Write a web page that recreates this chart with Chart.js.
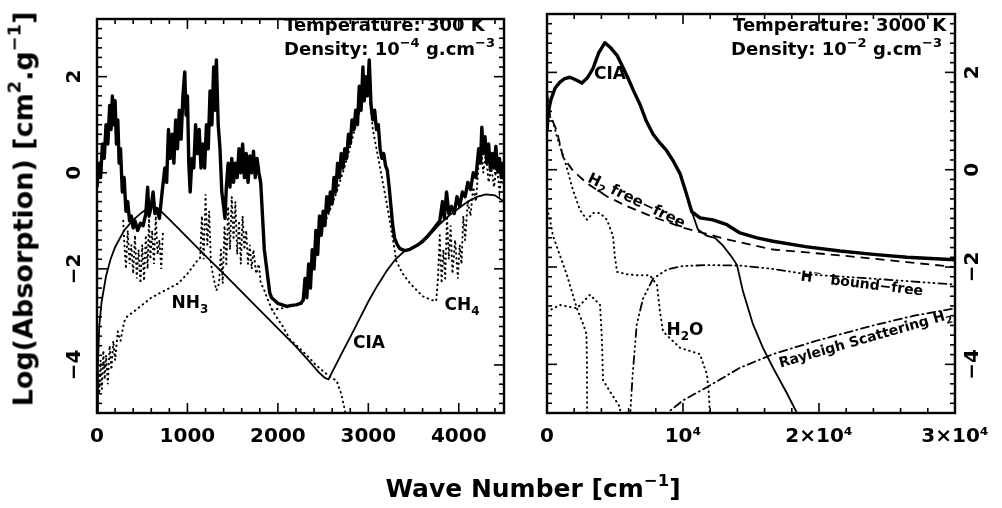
<!DOCTYPE html>
<html>
<head>
<meta charset="utf-8">
<script src="https://cdn.jsdelivr.net/npm/chart.js@4.4.1/dist/chart.umd.min.js"></script>
<style>
  body { margin: 0; width: 1002px; height: 508px; background: #fff; position: relative; overflow: hidden; }
  .box { position: absolute; top: 0; }
  #leftBox { left: 0; width: 520px; height: 508px; }
  #rightBox { left: 520px; width: 482px; height: 508px; }
  .title { position: absolute; font-family: "DejaVu Sans", sans-serif; font-weight: bold; color: #000; white-space: nowrap; }
  .title sup { font-size: 0.66em; position: relative; top: -0.1em; }
  #yTitle { left: 22px; top: 209px; font-size: 27px; transform: translate(-50%, -50%) rotate(-90deg); }
  #xTitle { left: 533px; top: 488px; font-size: 25px; transform: translate(-50%, -50%); }
</style>
</head>
<body>
<div id="leftBox" class="box"><canvas id="leftChart" width="520" height="508"></canvas></div>
<div id="rightBox" class="box"><canvas id="rightChart" width="482" height="508"></canvas></div>
<div id="yTitle" class="title">Log(Absorption) [cm<sup>2</sup>.g<sup>−1</sup>]</div>
<div id="xTitle" class="title">Wave Number [cm<sup>−1</sup>]</div>
<script>
const FONT = '"DejaVu Sans", sans-serif'

// tick values and labels
const yTickValues = [-4, -2, 0, 2]
const yTickLabels = ["−4", "−2", "0", "2"]
const leftXTicks = [0, 1000, 2000, 3000, 4000]
const leftXLabels = ["0", "1000", "2000", "3000", "4000"]
const rightXTicks = [0, 10000, 20000, 30000]
const rightXLabels = ["0", "10⁴", "2×10⁴", "3×10⁴"]

// ---- left panel : 300 K ----
const leftTotal = [[0,-0.3],[20,0.2],[40,-0.1],[60,0.6],[80,0.3],[100,1.0],[120,0.6],[140,1.4],[155,0.9],[170,1.6],[185,1.0],[200,1.5],[215,0.6],[230,1.1],[245,0.2],[260,0.5],[280,-0.4],[300,-0.1],[320,-0.8],[340,-0.6],[360,-1.0],[380,-0.9],[400,-1.15],[420,-1.0],[450,-1.2],[480,-1.05],[510,-1.1],[540,-0.85],[560,-0.3],[575,-0.9],[600,-0.7],[620,-0.4],[640,-0.85],[660,-0.75],[690,-0.95],[720,-0.4],[750,0.1],[770,-0.2],[790,0.9],[810,0.3],[830,0.8],[850,0.2],[870,1.1],[890,0.5],[910,1.3],[930,0.7],[950,1.6],[970,2.1],[985,1.2],[1000,1.6],[1015,0.2],[1030,-0.4],[1050,0.3],[1070,0.1],[1090,1.0],[1110,0.4],[1130,0.9],[1150,0.1],[1170,0.6],[1190,0.1],[1210,1.0],[1230,0.5],[1250,1.7],[1270,1.0],[1290,2.2],[1305,1.3],[1320,2.35],[1340,1.0],[1360,0.5],[1380,-0.4],[1400,-0.7],[1415,-0.95],[1430,-0.3],[1450,0.2],[1470,-0.3],[1490,0.3],[1510,-0.2],[1530,0.2],[1550,-0.1],[1570,0.5],[1590,0.0],[1610,0.6],[1630,-0.1],[1650,0.4],[1670,-0.2],[1690,0.35],[1710,0.0],[1730,0.45],[1750,-0.1],[1770,0.3],[1790,0.0],[1810,-0.2],[1830,-0.9],[1850,-1.6],[1870,-1.9],[1890,-2.2],[1910,-2.5],[1930,-2.6],[1960,-2.65],[2000,-2.72],[2050,-2.75],[2100,-2.78],[2150,-2.76],[2200,-2.75],[2250,-2.72],[2280,-2.65],[2300,-2.2],[2320,-2.6],[2340,-1.9],[2360,-2.4],[2380,-1.6],[2400,-2.0],[2420,-1.2],[2440,-1.7],[2460,-0.9],[2480,-1.3],[2500,-0.8],[2520,-1.1],[2540,-0.5],[2560,-0.8],[2580,-0.4],[2600,-0.65],[2620,-0.1],[2640,-0.4],[2660,0.2],[2680,-0.1],[2700,0.4],[2720,0.1],[2740,0.5],[2760,0.3],[2780,0.8],[2800,0.6],[2820,1.1],[2840,0.9],[2860,1.3],[2880,1.0],[2900,1.8],[2920,1.3],[2940,2.2],[2955,1.5],[2970,2.0],[2990,1.6],[3010,2.35],[3030,1.4],[3050,1.1],[3070,1.3],[3090,0.9],[3110,1.0],[3130,0.5],[3150,0.3],[3170,0.4],[3190,0.15],[3210,0.05],[3230,-0.3],[3250,-0.7],[3270,-1.1],[3290,-1.36],[3320,-1.5],[3350,-1.58],[3400,-1.62],[3450,-1.6],[3500,-1.55],[3550,-1.5],[3600,-1.42],[3650,-1.33],[3700,-1.22],[3750,-1.1],[3790,-1.0],[3820,-0.6],[3840,-0.95],[3865,-0.4],[3890,-0.85],[3920,-0.7],[3950,-0.85],[3980,-0.5],[4010,-0.7],[4040,-0.4],[4070,-0.5],[4100,-0.2],[4130,-0.35],[4160,0.0],[4190,-0.1],[4220,0.5],[4240,0.2],[4255,0.95],[4270,0.4],[4290,0.75],[4310,0.2],[4330,0.6],[4350,0.05],[4370,0.4],[4390,0.1],[4410,0.55],[4430,0.05],[4450,0.3],[4470,-0.1],[4490,0.2],[4500,0.0]]

const leftCIA = [[3,-5.1],[10,-4.0],[25,-3.2],[50,-2.7],[100,-2.15],[150,-1.8],[200,-1.55],[300,-1.2],[400,-0.98],[500,-0.82],[580,-0.72],[630,-0.7],[680,-0.75],[800,-0.97],[1000,-1.35],[1200,-1.73],[1400,-2.1],[1600,-2.48],[1800,-2.86],[2000,-3.24],[2200,-3.62],[2350,-3.93],[2450,-4.15],[2520,-4.27],[2560,-4.3],[2600,-4.15],[2700,-3.78],[2800,-3.42],[2900,-3.05],[3000,-2.68],[3100,-2.35],[3200,-2.05],[3300,-1.8],[3400,-1.63],[3460,-1.6],[3600,-1.45],[3700,-1.25],[3800,-1.05],[3900,-0.88],[4000,-0.74],[4100,-0.6],[4200,-0.5],[4300,-0.45],[4400,-0.47],[4500,-0.6]]

const leftNH3low = [[0,-5.2],[10,-4.2],[25,-4.6],[40,-3.9],[55,-4.5],[70,-3.7],[85,-4.3],[100,-3.8],[120,-4.4],[140,-3.6],[160,-4.1],[180,-3.5],[200,-3.9],[230,-3.3],[260,-3.5],[300,-3.1],[330,-3.0],[400,-2.9],[500,-2.75],[600,-2.6],[700,-2.5],[800,-2.4],[900,-2.3],[1000,-2.1],[1060,-1.95],[1100,-1.85]]

const leftNH3rot = [[290,-1.0],[300,-1.4],[320,-2.0],[340,-1.2],[360,-1.9],[380,-1.5],[400,-2.1],[420,-1.3],[440,-2.2],[460,-1.6],[480,-2.3],[500,-1.5],[520,-2.25],[540,-1.3],[560,-2.0],[575,-0.9],[590,-1.8],[610,-1.2],[630,-1.9],[650,-0.9],[670,-1.7],[690,-1.4],[710,-2.0],[730,-1.2]]

const leftNH3band = [[1100,-1.85],[1140,-1.77],[1160,-0.9],[1180,-1.8],[1200,-0.45],[1220,-1.5],[1240,-0.8],[1260,-1.9],[1290,-2.2],[1320,-2.45],[1350,-2.3],[1370,-1.6],[1390,-2.3],[1410,-1.1],[1430,-1.9],[1450,-0.7],[1470,-1.6],[1490,-0.5],[1510,-1.4],[1530,-0.6],[1550,-1.7],[1570,-1.0],[1590,-1.9],[1610,-0.9],[1630,-1.6],[1650,-1.2],[1670,-1.9],[1690,-1.5],[1710,-2.0],[1730,-1.6],[1760,-2.1],[1790,-1.9],[1810,-2.3],[1840,-2.4],[1880,-2.6],[1935,-2.85],[2000,-3.05],[2055,-3.2],[2130,-3.46],[2220,-3.62],[2320,-3.8],[2420,-4.0],[2500,-4.13],[2580,-4.25],[2650,-4.33],[2700,-4.6],[2740,-4.94],[2770,-5.2]]

const leftCH4 = [[1935,-2.85],[2050,-2.82],[2150,-2.78],[2275,-2.72],[2320,-2.3],[2380,-1.8],[2450,-1.3],[2550,-0.9],[2650,-0.4],[2750,0.2],[2850,0.9],[2950,1.6],[3000,1.9],[3050,0.9],[3120,0.2],[3200,-0.6],[3270,-1.36],[3310,-1.84],[3380,-2.1],[3460,-2.3],[3600,-2.57],[3700,-2.65],[3750,-2.67],[3770,-2.2],[3790,-1.3],[3810,-2.3],[3830,-1.6],[3850,-2.2],[3870,-0.9],[3890,-1.8],[3910,-1.1],[3930,-2.1],[3960,-1.4],[3990,-2.2],[4010,-1.5],[4030,-1.9],[4050,-0.9],[4070,-1.4],[4100,-0.6],[4130,-0.9],[4160,-0.3],[4190,-0.6],[4220,0.2],[4250,0.5],[4270,0.0],[4300,0.4],[4330,-0.2],[4360,0.1],[4390,-0.3],[4420,0.2],[4450,-0.4],[4480,0.0],[4500,-0.3]]

// ---- right panel : 3000 K ----
const rightTotal = [[0,0.8],[100,1.2],[300,1.45],[600,1.68],[950,1.8],[1300,1.87],[1690,1.9],[2100,1.85],[2570,1.78],[3000,1.9],[3380,2.08],[3800,2.4],[4260,2.61],[4700,2.5],[5150,2.35],[5500,2.15],[5960,1.88],[6400,1.6],[6840,1.34],[7300,1.0],[7800,0.73],[8300,0.55],[8800,0.39],[9300,0.17],[9780,-0.08],[10200,-0.45],[10640,-0.86],[11250,-0.99],[12200,-1.03],[13230,-1.13],[14190,-1.3],[15440,-1.4],[16620,-1.47],[19000,-1.58],[21540,-1.67],[24000,-1.74],[26470,-1.8],[30000,-1.85]]

const rightCIA = [[0,0.8],[100,1.2],[300,1.45],[600,1.68],[950,1.8],[1300,1.87],[1690,1.9],[2100,1.85],[2570,1.78],[3000,1.9],[3380,2.08],[3800,2.4],[4260,2.61],[4700,2.5],[5150,2.35],[5500,2.15],[5960,1.88],[6400,1.6],[6840,1.34],[7300,1.0],[7800,0.73],[8300,0.55],[8800,0.39],[9300,0.17],[9780,-0.08],[10200,-0.45],[10640,-0.86],[11100,-1.23],[11760,-1.36],[12350,-1.4],[12940,-1.56],[13600,-1.8],[13970,-1.96],[14410,-2.5],[15150,-3.18],[15880,-3.66],[16620,-4.07],[17650,-4.6],[18380,-5.0],[18600,-5.2]]

const rightH2ff = [[0,1.6],[220,1.13],[720,0.8],[1180,0.26],[1910,-0.02],[2940,-0.28],[4410,-0.55],[5880,-0.75],[7600,-0.95],[10000,-1.19],[13230,-1.43],[16620,-1.64],[21540,-1.76],[26470,-1.9],[30000,-2.0]]

const rightHbf = [[6100,-5.1],[6300,-4.2],[6600,-3.18],[7060,-2.65],[7800,-2.24],[8820,-2.05],[10000,-1.98],[11760,-1.96],[14190,-1.97],[16620,-2.04],[19120,-2.15],[24000,-2.24],[27000,-2.3],[30000,-2.36]]

const rightRayleigh = [[8400,-5.1],[10000,-4.74],[11760,-4.47],[14190,-4.07],[16620,-3.79],[20000,-3.5],[24000,-3.2],[27000,-3.0],[30000,-2.85]]

const rightH2Oa = [[0,1.5],[200,1.1],[440,0.99],[740,0.67],[1320,0.18],[1910,-0.42],[2430,-0.83],[2940,-1.03],[3380,-0.89],[3900,-0.89],[4410,-1.03],[4850,-1.36],[5000,-1.8],[5150,-2.1],[5900,-2.15],[6620,-2.17],[7570,-2.17],[8090,-2.37],[8300,-2.9],[8530,-3.32],[8800,-3.4],[9780,-3.66],[11250,-3.79],[11500,-4.0],[11760,-4.2],[11900,-4.6],[11990,-5.1]]
const rightH2Ob = [[0,-0.8],[200,-1.0],[440,-1.36],[950,-1.76],[1470,-2.17],[2200,-2.85],[2700,-3.2],[2900,-3.38],[2940,-4.0],[2950,-5.1]]
const rightH2Oc = [[0,-2.92],[950,-2.78],[2200,-2.85],[3160,-2.57],[3900,-2.78],[4040,-3.5],[4120,-4.33],[5370,-4.88],[5400,-5.1]]

// ---- drawing helpers ----
function drawRich(ctx, x, y, parts, size, align, angle) {
  ctx.save()
  ctx.translate(x, y)
  ctx.rotate((angle || 0) * Math.PI / 180)
  ctx.fillStyle = "#000"
  ctx.textBaseline = "alphabetic"
  ctx.textAlign = "left"
  const fonts = parts.map(p => "bold " + (p[1] ? Math.round(size * 0.72) : size) + "px " + FONT)
  const widths = parts.map((p, i) => { ctx.font = fonts[i]; return ctx.measureText(p[0]).width })
  const total = widths.reduce((a, b) => a + b, 0)
  let cx = align === "center" ? -total / 2 : align === "right" ? -total : 0
  parts.forEach((p, i) => {
    ctx.font = fonts[i]
    const dy = p[1] === 1 ? -size * 0.45 : p[1] === -1 ? size * 0.28 : 0
    ctx.fillText(p[0], cx, dy + size * 0.36)
    cx += widths[i]
  })
  ctx.restore()
}

// box + inward major/minor ticks on all four sides
const framePlugin = {
  id: "frame",
  afterDraw(chart, args, o) {
    const { ctx, chartArea: a, scales: { x, y } } = chart
    ctx.save()
    ctx.strokeStyle = "#000"
    ctx.lineWidth = 1.6
    const seg = (x1, y1, x2, y2) => { ctx.beginPath(); ctx.moveTo(x1, y1); ctx.lineTo(x2, y2); ctx.stroke() }
    const isMajor = (v, m) => Math.abs(v / m - Math.round(v / m)) < 1e-6
    for (let i = 0; x.min + i * o.xMinor <= x.max + 1e-6; i++) {
      const v = x.min + i * o.xMinor
      const px = x.getPixelForValue(v)
      const len = isMajor(v, o.xMajor) ? 10 : 5
      seg(px, a.bottom, px, a.bottom - len)
      seg(px, a.top, px, a.top + len)
    }
    for (let i = 0; y.min + i * o.yMinor <= y.max + 1e-6; i++) {
      const v = y.min + i * o.yMinor
      const py = y.getPixelForValue(v)
      const len = isMajor(v, o.yMajor) ? 10 : 5
      seg(a.left, py, a.left + len, py)
      seg(a.right, py, a.right - len, py)
    }
    ctx.lineWidth = 2.4
    ctx.strokeRect(a.left, a.top, a.right - a.left, a.bottom - a.top)
    ctx.restore()
  }
}

const notesPlugin = {
  id: "notes",
  afterDatasetsDraw(chart, args, o) {
    o.list.forEach(n => drawRich(chart.ctx, n.x, n.y, n.t, n.size || 17, n.align || "center", n.angle || 0))
  }
}

const line = (data, style) => {
  const base = { data, borderColor: "#000", borderWidth: 1.8, pointRadius: 0, tension: 0, fill: false }
  if (style === "thick") return { ...base, borderWidth: 3.4, borderJoinStyle: "round" }
  if (style === "dot") return { ...base, borderWidth: 2, borderDash: [0.5, 4.5], borderCapStyle: "round" }
  if (style === "dash") return { ...base, borderDash: [9, 6] }
  if (style === "dashdot") return { ...base, borderDash: [8, 4, 1, 4], borderCapStyle: "round" }
  if (style === "dash3dot") return { ...base, borderDash: [8, 4, 1, 4, 1, 4, 1, 4], borderCapStyle: "round" }
  return base
}

const tickFont = { family: FONT, size: 20, weight: "bold" }

const makeChart = (el, cfg) => new Chart(el, {
  type: "line",
  data: { datasets: cfg.datasets },
  options: {
    responsive: false,
    animation: false,
    layout: { padding: cfg.padding },
    plugins: {
      legend: { display: false },
      tooltip: { enabled: false },
      frame: { xMinor: cfg.xMinor, xMajor: cfg.xMajor, yMinor: 0.2, yMajor: 2 },
      notes: { list: cfg.notes },
    },
    scales: {
      x: {
        type: "linear", min: 0, max: cfg.xMax,
        grid: { display: false, drawTicks: false },
        border: { display: false },
        afterBuildTicks: s => { s.ticks = cfg.xTicks.map(v => ({ value: v })) },
        ticks: { autoSkip: false, maxRotation: 0, padding: 12, color: "#000", font: tickFont,
          callback: v => cfg.xLabels[cfg.xTicks.indexOf(v)] },
        afterFit: s => { s.height = 95 },
      },
      y: {
        type: "linear", min: -5, max: 3.2, position: cfg.yPos,
        grid: { display: false, drawTicks: false },
        border: { display: false },
        afterBuildTicks: s => { s.ticks = yTickValues.map(v => ({ value: v })) },
        ticks: { autoSkip: false, minRotation: 90, maxRotation: 90, crossAlign: "center", padding: cfg.yPad, color: "#000", font: tickFont,
          callback: v => yTickLabels[yTickValues.indexOf(v)] },
        afterFit: s => { s.width = cfg.yWidth },
      },
    },
  },
  plugins: [framePlugin, notesPlugin],
})

const pintar = () => {
  makeChart(document.getElementById("leftChart"), {
    xMax: 4500, xMajor: 1000, xMinor: 200, xTicks: leftXTicks, xLabels: leftXLabels,
    yPos: "left", yWidth: 97, yPad: 7,
    padding: { left: 0, right: 16, top: 7, bottom: 0 },
    datasets: [
      line(leftTotal, "thick"),
      line(leftCIA, "solid"),
      line(leftNH3low, "dot"),
      line(leftNH3rot, "dot"),
      line(leftNH3band, "dot"),
      line(leftCH4, "dot"),
    ],
    notes: [
      { t: [["Temperature: 300 K", 0]], x: 284, y: 25, size: 18, align: "left" },
      { t: [["Density: 10", 0], ["−4", 1], [" g.cm", 0], ["−3", 1]], x: 284, y: 49, size: 18, align: "left" },
      { t: [["NH", 0], ["3", -1]], x: 190, y: 302 },
      { t: [["CIA", 0]], x: 369, y: 342 },
      { t: [["CH", 0], ["4", -1]], x: 462, y: 304 },
    ],
  })

  makeChart(document.getElementById("rightChart"), {
    xMax: 30000, xMajor: 10000, xMinor: 2000, xTicks: rightXTicks, xLabels: rightXLabels,
    yPos: "right", yWidth: 47, yPad: 2,
    padding: { left: 27, right: 0, top: 7, bottom: 0 },
    datasets: [
      line(rightTotal, "thick"),
      line(rightCIA, "solid"),
      line(rightH2ff, "dash"),
      line(rightHbf, "dash3dot"),
      line(rightRayleigh, "dashdot"),
      line(rightH2Oa, "dot"),
      line(rightH2Ob, "dot"),
      line(rightH2Oc, "dot"),
    ],
    notes: [
      { t: [["Temperature: 3000 K", 0]], x: 213, y: 25, size: 18, align: "left" },
      { t: [["Density: 10", 0], ["−2", 1], [" g.cm", 0], ["−3", 1]], x: 211, y: 49, size: 18, align: "left" },
      { t: [["CIA", 0]], x: 90, y: 73 },
      { t: [["H", 0], ["2", -1], ["O", 0]], x: 165, y: 329 },
      { t: [["H", 0], ["2", -1], [" free−free", 0]], x: 117, y: 200, size: 15, angle: 26 },
      { t: [["H", 0], ["−", 1], ["  bound−free", 0]], x: 342, y: 283, size: 14, angle: 7 },
      { t: [["Rayleigh Scattering H", 0], ["2", -1]], x: 345, y: 338, size: 14, angle: -16 },
    ],
  })
}

window.addEventListener("load", pintar)
</script>
</body>
</html>
